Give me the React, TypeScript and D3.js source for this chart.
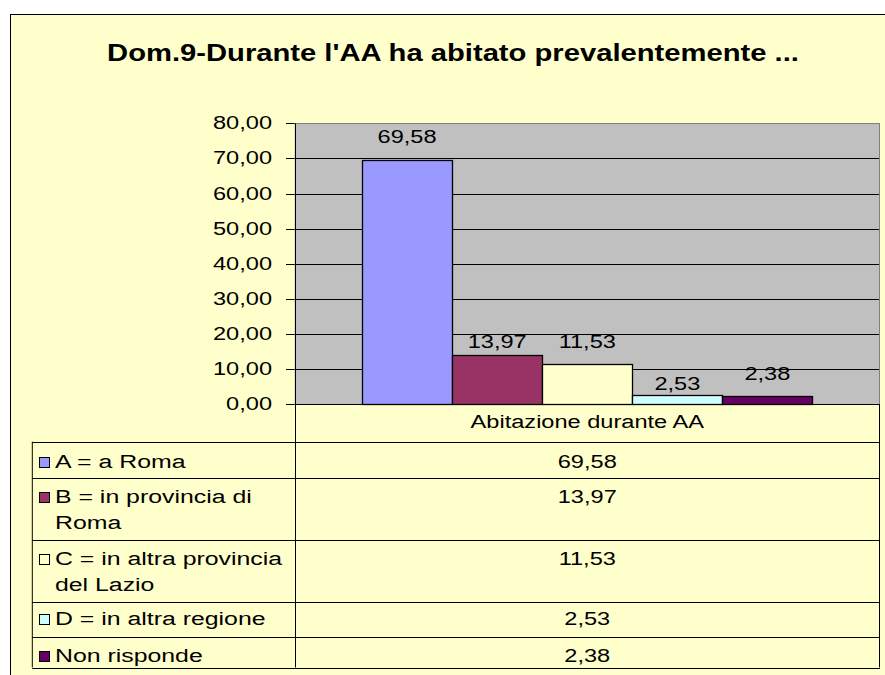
import React from "react";
import * as d3 from "d3";

const title = "Dom.9-Durante l'AA ha abitato prevalentemente ...";
const category = "Abitazione durante AA";
const seriesLines: string[][] = [
  ["A = a Roma"],
  ["B = in provincia di", "Roma"],
  ["C = in altra provincia", "del Lazio"],
  ["D = in altra regione"],
  ["Non risponde"],
];
const seriesValues = [69.58, 13.97, 11.53, 2.53, 2.38];
const seriesColors = ["#9999FF", "#993366", "#FFFFCC", "#CCFFFF", "#660066"];
const yTicks = [0, 10, 20, 30, 40, 50, 60, 70, 80];

// layout (not data)
const labelLift = [17, 7, 16, 5, 16];
const rowHeights = [36.6, 61.7, 62.3, 35, 30.2];
const rowBaseline = [25.8, 24.7, 25, 22.7, 24.4];

const locale = d3.formatLocale({ decimal: ",", thousands: ".", grouping: [3], currency: ["", "€"] });
const fmt = locale.format(".2f");

const FONT = "'Liberation Sans', Arial, sans-serif";
const SX = 1.31;

function T(props: { x: number; y: number; anchor?: string; size?: number; bold?: boolean; sx?: number; children: any }) {
  const { x, y, anchor = "start", size = 18, bold = false, sx = SX, children } = props;
  return (
    <text
      transform={`translate(${x},${y}) scale(${sx},1)`}
      textAnchor={anchor as any}
      fontSize={size}
      fontWeight={bold ? "bold" : "normal"}
      fontFamily={FONT}
      fill="#000"
    >
      {children}
    </text>
  );
}

export default function App() {
  const W = 885, H = 675;
  const plotL = 294.5, plotR = 880, plotT = 123.3, plotB = 404.3;
  const y = d3.scaleLinear().domain([0, 80]).range([plotB, plotT]);
  const xCat = d3.scaleBand<string>().domain([category]).range([plotL, plotR]).paddingInner(0).paddingOuter(0.15);
  const xSer = d3.scaleBand<number>().domain(d3.range(seriesValues.length)).range([0, xCat.bandwidth()]).padding(0);

  const headerBottom = 441.7;
  const tableL = 32.3;
  const rowTops: number[] = [];
  let acc = headerBottom;
  rowHeights.forEach((h) => { rowTops.push(acc); acc += h; });
  const tableBottom = acc;
  const colCenter = (plotL + plotR) / 2;

  return (
    <div style={{ position: "fixed", left: 0, top: 0, width: W, height: H, background: "#fff" }}>
      <svg width={W} height={H} style={{ display: "block" }}>
        <rect x={0} y={0} width={W} height={H} fill="#fff" />
        <rect x={10.5} y={14.5} width={W + 20} height={H + 20} fill="#FFFFCC" stroke="#000" strokeWidth={1} />

        {/* title */}
        <T x={453} y={61} anchor="middle" size={23} bold sx={1.27}>{title}</T>

        {/* plot area */}
        <rect x={plotL} y={plotT} width={plotR - plotL} height={plotB - plotT} fill="#C0C0C0" />
        {yTicks.filter((t) => t > 0 && t < 80).map((t) => (
          <line key={t} x1={plotL} x2={plotR} y1={Math.round(y(t)) + 0.5} y2={Math.round(y(t)) + 0.5} stroke="#000" strokeWidth={1} />
        ))}
        <line x1={plotL} x2={plotR} y1={Math.round(plotT) + 0.5} y2={Math.round(plotT) + 0.5} stroke="#808080" />
        <line x1={plotR - 0.5} x2={plotR - 0.5} y1={plotT} y2={plotB} stroke="#808080" />

        {/* bars */}
        {seriesValues.map((v, i) => {
          const x0 = (xCat(category) as number) + (xSer(i) as number);
          const bw = xSer.bandwidth();
          return (
            <rect key={i} x={Math.round(x0) + 0.5} y={Math.round(y(v)) + 0.5} width={Math.round(bw)} height={Math.round(plotB) - Math.round(y(v))}
              fill={seriesColors[i]} stroke="#000" strokeWidth={1.3} />
          );
        })}
        {seriesValues.map((v, i) => {
          const x0 = (xCat(category) as number) + (xSer(i) as number) + xSer.bandwidth() / 2;
          return <T key={i} x={x0} y={y(v) - labelLift[i]} anchor="middle">{fmt(v)}</T>;
        })}

        {/* y axis */}
        {yTicks.map((t) => (
          <g key={t}>
            <line x1={286} x2={plotL} y1={Math.round(y(t)) + 0.5} y2={Math.round(y(t)) + 0.5} stroke="#000" />
            <T x={272} y={y(t) + 6} anchor="end">{fmt(t)}</T>
          </g>
        ))}
        <line x1={Math.round(plotL) + 0.5} x2={Math.round(plotL) + 0.5} y1={plotT} y2={tableBottom} stroke="#000" />
        <line x1={plotL} x2={plotR} y1={Math.round(plotB) + 0.5} y2={Math.round(plotB) + 0.5} stroke="#000" />

        {/* data table */}
        <T x={colCenter} y={plotB + 24} anchor="middle">{category}</T>
        <line x1={plotR - 0.5} x2={plotR - 0.5} y1={plotB} y2={tableBottom} stroke="#000" />
        <line x1={tableL} x2={tableL} y1={headerBottom} y2={tableBottom} stroke="#000" />
        <line x1={tableL} x2={plotR} y1={Math.round(headerBottom) + 0.5} y2={Math.round(headerBottom) + 0.5} stroke="#000" />
        {rowTops.map((top, i) => (
          <g key={i}>
            <line x1={tableL} x2={plotR} y1={Math.round(top + rowHeights[i]) + 0.5} y2={Math.round(top + rowHeights[i]) + 0.5} stroke="#000" />
            <rect x={39.5} y={Math.round(top + rowBaseline[i] - 11) + 0.5} width={10} height={10} fill={seriesColors[i]} stroke="#000" />
            {seriesLines[i].map((ln, j) => (
              <T key={j} x={55} y={top + rowBaseline[i] + j * 26} sx={1.38}>{ln}</T>
            ))}
            <T x={colCenter} y={top + rowBaseline[i]} anchor="middle">{fmt(seriesValues[i])}</T>
          </g>
        ))}
      </svg>
    </div>
  );
}
